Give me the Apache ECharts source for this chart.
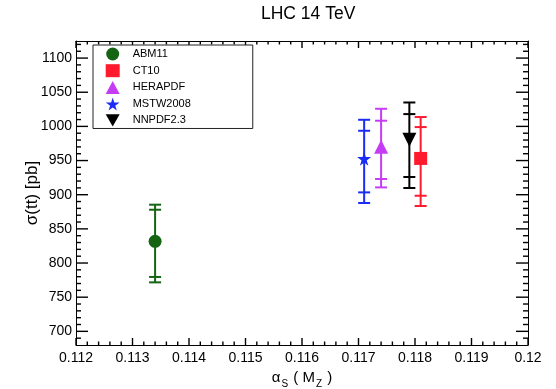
<!DOCTYPE html>
<html><head><meta charset="utf-8">
<script src="https://cdn.jsdelivr.net/npm/echarts@6/dist/echarts.min.js"></script>
<style>html,body{margin:0;padding:0;background:#fff}#c{width:556px;height:389px}</style>
</head><body><div id="c"></div>
<script>
// ---- data ----
const pdfNames   = ['ABM11', 'CT10', 'HERAPDF', 'MSTW2008', 'NNPDF2.3'];
const alphaS     = [0.1134, 0.1181, 0.1174, 0.1171, 0.1179];
const sigma      = [831.7, 953.1, 970.2, 952.7, 980.5];
const innerLow   = [779.6, 898.5, 923.0, 903.4, 925.9];
const innerHigh  = [878.0, 999.0, 1008.3, 993.6, 1018.0];
const outerLow   = [771.7, 883.5, 910.7, 887.9, 909.8];
const outerHigh  = [885.4, 1013.7, 1025.8, 1009.7, 1035.0];
const xTickLabels = [0.112, 0.113, 0.114, 0.115, 0.116, 0.117, 0.118, 0.119, 0.12];
const yTickLabels = [700, 750, 800, 850, 900, 950, 1000, 1050, 1100];

// ---- styling ----
const colors = ['#146414', '#ff1a2e', '#c63cf5', '#1a2cf5', '#000000'];
const STAR = 'path://M50,0 L61,35 L98,35 L68,57 L79,91 L50,70 L21,91 L32,57 L2,35 L39,35 Z';
const TRIDOWN = 'path://M0,0 L100,0 L50,87 Z';
const symbols = ['circle', 'rect', 'triangle', STAR, TRIDOWN];
const symSizes = [13, 13, 14, 14, 14];
const FONT = 'Liberation Sans, Arial, Helvetica, sans-serif';

const X_MIN = 0.112, X_MAX = 0.12, Y_MIN = 680, Y_MAX = 1125;
// minor tick values (5 divisions per major step)
const xMinor = [];
for (let i = 1; i < 40; i++) if (i % 5) xMinor.push(+(X_MIN + i * 0.0002).toFixed(4));
const yMinor = [];
for (let v = 690; v <= 1120; v += 10) if (v % 50) yMinor.push(v);

const axLine = { show: true, onZero: false, lineStyle: { color: '#000', width: 1 } };

function xAx(pos, withLabels) {
  const o = {
    type: 'value', min: X_MIN, max: X_MAX, position: pos,
    axisLine: axLine,
    axisTick: { show: false },
    axisLabel: { show: withLabels, customValues: xTickLabels, margin: 6, fontFamily: FONT, fontSize: 14, color: '#000',
      formatter: v => String(+v.toFixed(3)) },
    splitLine: { show: false }
  };
  if (withLabels) {
    o.name = '{a|α}{s|S}{a| ( M}{s|Z}{a| )}';
    o.nameLocation = 'middle'; o.nameGap = 22; o.nameMoveOverlap = false;
    o.nameTextStyle = { rich: {
      a: { fontFamily: FONT, fontSize: 15, color: '#000', lineHeight: 22 },
      s: { fontFamily: FONT, fontSize: 10, color: '#000', lineHeight: 12, verticalAlign: 'bottom', padding: [0, 1, 0, 1] } } };
  }
  return o;
}
function yAx(pos, withLabels) {
  const o = {
    type: 'value', min: Y_MIN, max: Y_MAX, position: pos,
    axisLine: axLine,
    axisTick: { show: false },
    axisLabel: { show: withLabels, customValues: yTickLabels, margin: 4,
      fontFamily: FONT, fontSize: 14, color: '#000', formatter: v => String(v) },
    splitLine: { show: false }
  };
  if (withLabels) {
    o.name = 'σ(tt) [pb]'; o.nameLocation = 'middle'; o.nameGap = 35; o.nameMoveOverlap = false;
    o.nameTextStyle = { fontFamily: FONT, fontSize: 17, color: '#000' };
  }
  return o;
}

// frame ticks on all four sides, placed through the axes' scales
function renderTicks(params, api) {
  const tl = api.coord([X_MIN, Y_MAX]);
  const br = api.coord([X_MAX, Y_MIN]);
  const left = tl[0], top = tl[1], right = br[0], bottom = br[1];
  const st = { stroke: '#000', lineWidth: 1.4 };
  const ch = [];
  const vx = (vals, len) => vals.forEach(v => {
    const px = api.coord([v, Y_MIN])[0];
    ch.push({ type: 'line', shape: { x1: px, y1: bottom, x2: px, y2: bottom - len }, style: st });
    ch.push({ type: 'line', shape: { x1: px, y1: top, x2: px, y2: top + len }, style: st });
  });
  const vy = (vals, len) => vals.forEach(v => {
    const py = api.coord([X_MIN, v])[1];
    ch.push({ type: 'line', shape: { x1: left, y1: py, x2: left + len, y2: py }, style: st });
    ch.push({ type: 'line', shape: { x1: right, y1: py, x2: right - len, y2: py }, style: st });
  });
  vx(xTickLabels, 7); vx(xMinor, 3.5);
  vy(yTickLabels, 12); vy(yMinor, 5);
  return { type: 'group', children: ch };
}

const errData = pdfNames.map((n, i) => [alphaS[i], outerLow[i], innerLow[i], innerHigh[i], outerHigh[i]]);

function renderErr(params, api) {
  const x = api.value(0);
  const pts = [1, 2, 3, 4].map(d => api.coord([x, api.value(d)]));
  const cx = pts[0][0];
  const hw = 6;
  const style = { stroke: colors[params.dataIndex], lineWidth: 2, fill: null };
  const children = [{ type: 'line', shape: { x1: cx, y1: pts[0][1], x2: cx, y2: pts[3][1] }, style }];
  pts.forEach(p => children.push({ type: 'line', shape: { x1: cx - hw, y1: p[1], x2: cx + hw, y2: p[1] }, style }));
  return { type: 'group', children };
}

const series = [{
  type: 'custom', name: 'ticks', xAxisIndex: 0, yAxisIndex: 0,
  data: [[0.116, 900]], encode: { x: 0, y: 1 },
  renderItem: renderTicks, silent: true, z: 1
}, {
  type: 'custom', name: 'err', xAxisIndex: 0, yAxisIndex: 0,
  data: errData, renderItem: renderErr, silent: true, z: 2,
  encode: { x: 0, y: [1, 4] }
}];
pdfNames.forEach((n, i) => series.push({
  type: 'scatter', name: n, xAxisIndex: 0, yAxisIndex: 0,
  data: [[alphaS[i], sigma[i]]], symbol: symbols[i], symbolSize: symSizes[i],
  itemStyle: { color: colors[i], opacity: 1 }, z: 3, silent: true
}));

const chart = echarts.init(document.getElementById('c'), null, { renderer: 'canvas' });
chart.setOption({
  animation: false,
  backgroundColor: '#fff',
  title: { text: 'LHC 14 TeV', left: 261, top: 5, padding: 0,
    textStyle: { fontFamily: FONT, fontSize: 17.5, fontWeight: 'normal', color: '#000' } },
  grid: { left: 76, right: 28, top: 41, bottom: 44, containLabel: false, outerBoundsMode: 'none' },
  legend: {
    orient: 'vertical', left: 93, top: 45, selectedMode: false,
    itemWidth: 14, itemHeight: 13, itemGap: 3.7,
    padding: [2.5, 62, 2, 12.7], borderColor: '#222', borderWidth: 1, backgroundColor: '#fff',
    textStyle: { fontFamily: FONT, fontSize: 11, color: '#000', padding: [0, 0, 0, 8] },
    data: pdfNames.map((n, i) => ({ name: n, icon: symbols[i] }))
  },
  xAxis: [xAx('bottom', true), xAx('top', false)],
  yAxis: [yAx('left', true), yAx('right', false)],
  series
});
</script></body></html>
